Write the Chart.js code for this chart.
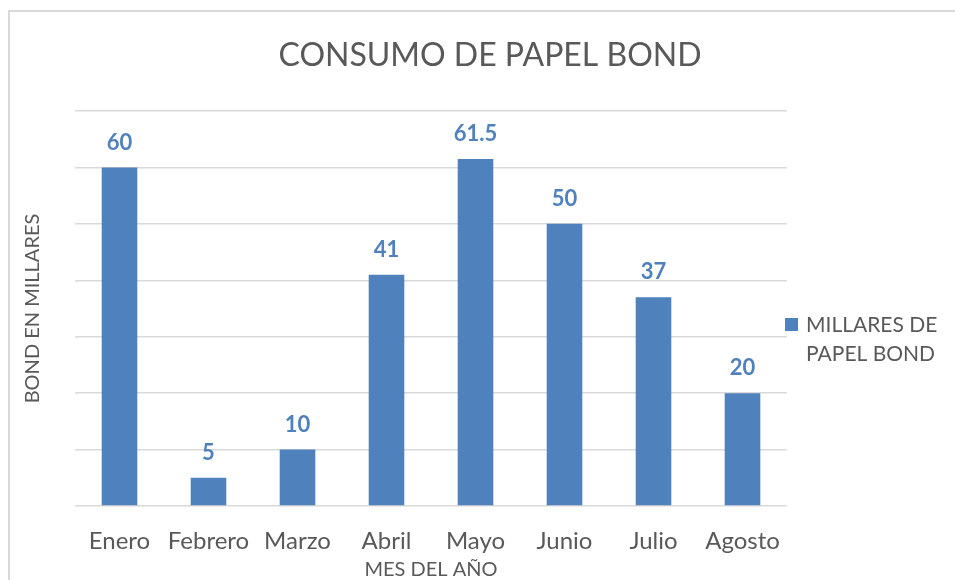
<!DOCTYPE html>
<html>
<head>
<meta charset="utf-8">
<script src="https://cdn.jsdelivr.net/npm/chart.js@4"></script>
<style>
  html, body { margin: 0; padding: 0; background: #fff; }
  #wrap { position: relative; width: 955px; height: 580px; overflow: hidden; }
  #frame { position: absolute; left: 8px; top: 10px; width: 1000px; height: 600px;
           border-left: 2px solid #d9d9d9; border-top: 2px solid #d9d9d9; }
  canvas { position: absolute; left: 0; top: 0; }
</style>
</head>
<body>
<div id="wrap">
  <div id="frame"></div>
  <canvas id="chart" width="955" height="580"></canvas>
</div>
<script>
const meses = ['Enero', 'Febrero', 'Marzo', 'Abril', 'Mayo', 'Junio', 'Julio', 'Agosto'];
const millares = [60, 5, 10, 41, 61.5, 50, 37, 20];
const titulo = 'CONSUMO DE PAPEL BOND';
const serie = 'MILLARES DE PAPEL BOND';
const ejeX = 'MES DEL AÑO';
const ejeY = 'BOND EN MILLARES';

const azul = '#4f81bd';
const gris = '#595959';
const fuente = 'Lato, "Open Sans", sans-serif';

// title, value labels and the two-line legend are drawn here
const extras = {
    id: 'extras',
    afterDatasetsDraw(chart) {
        const ctx = chart.ctx;
        const meta = chart.getDatasetMeta(0);
        ctx.save();
        ctx.fillStyle = azul;
        ctx.font = 'bold 22px ' + fuente;
        ctx.textAlign = 'center';
        ctx.textBaseline = 'middle';
        meta.data.forEach((bar, i) => {
            ctx.fillText(String(millares[i]), bar.x, bar.y - 25);
        });
        ctx.restore();
    },
    afterDraw(chart) {
        const ctx = chart.ctx;
        ctx.save();
        // title
        ctx.fillStyle = gris;
        ctx.font = '32px ' + fuente;
        ctx.textAlign = 'center';
        ctx.textBaseline = 'middle';
        ctx.fillText(titulo, 490, 56);

        // legend
        const ds = chart.data.datasets[0];
        ctx.fillStyle = ds.backgroundColor;
        ctx.fillRect(785, 318, 13, 13);
        ctx.fillStyle = gris;
        ctx.font = '21px ' + fuente;
        ctx.textAlign = 'left';
        const words = ds.label.split(' ');
        const lines = [];
        let line = '';
        words.forEach(w => {
            const t = line ? line + ' ' + w : w;
            if (ctx.measureText(t).width > 135 && line) {
                lines.push(line);
                line = w;
            } else {
                line = t;
            }
        });
        lines.push(line);
        lines.forEach((l, i) => ctx.fillText(l, 806, 325 + i * 29));
        ctx.restore();
    }
};

new Chart(document.getElementById('chart').getContext('2d'), {
    type: 'bar',
    data: {
        labels: meses,
        datasets: [
            {
                label: serie,
                data: millares,
                backgroundColor: azul,
                borderWidth: 0,
                categoryPercentage: 1,
                barPercentage: 0.4,
            },
        ],
    },
    options: {
        responsive: false,
        animation: false,
        layout: {
            padding: { top: 111, right: 168, bottom: 0, left: 0 },
        },
        plugins: {
            legend: { display: false },
            title: { display: false },
            tooltip: { enabled: false },
        },
        scales: {
            x: {
                grid: { display: false, drawTicks: false },
                border: { display: false },
                ticks: {
                    color: gris,
                    font: { family: fuente, size: 24 },
                    padding: 21,
                    maxRotation: 0,
                },
                title: {
                    display: true,
                    text: ejeX,
                    color: gris,
                    font: { family: fuente, size: 20 },
                    padding: { top: 0, bottom: -2 },
                },
                afterFit(scale) {
                    scale.height = 580 - 506;
                },
            },
            y: {
                min: 0,
                max: 70,
                ticks: { display: false, stepSize: 10 },
                grid: { color: '#d9d9d9', lineWidth: 1.5, drawTicks: false },
                border: { display: false },
                title: {
                    display: true,
                    text: ejeY,
                    color: gris,
                    font: { family: fuente, size: 20 },
                    padding: { top: 21, bottom: 0 },
                },
                afterFit(scale) {
                    scale.width = 75;
                },
            },
        },
    },
    plugins: [extras],
});
</script>
</body>
</html>
